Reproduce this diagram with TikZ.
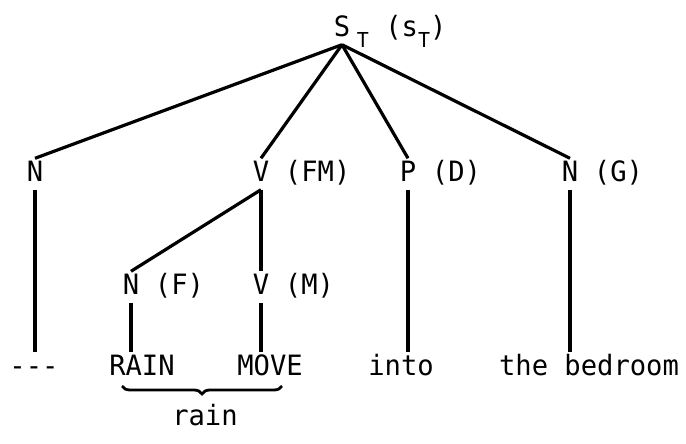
\documentclass[tikz,border=0pt]{standalone}
\usepackage{fontspec}
\setmainfont[FakeStretch=0.97]{DejaVu Sans Mono}
\usetikzlibrary{decorations.pathreplacing}
\newcommand{\subT}{\raisebox{-5.5pt}{\fontsize{10.3pt}{10.3pt}\selectfont T}}

\begin{document}
\begin{tikzpicture}[x=0.5pt, y=-0.5pt, font=\fontsize{14pt}{16pt}\selectfont,
    every node/.style={inner sep=4pt, text height=0.73em, text depth=0pt},
    rolelab/.style={inner sep=0pt},
    label distance=3.5pt,
    branch/.style={line width=1.6pt}]
  \useasboundingbox (0,0) rectangle (686,444);

  % top node
  \node[label={[rolelab, xshift=-4.5pt]right:\subT\ (s\subT)}] (root) at (342,29) {S};

  % first level
  \node (n) at (35,174) {N};
  \node[label={[rolelab]right:(FM)}] (vfm) at (261,174) {V};
  \node[label={[rolelab]right:(D)}] (pd) at (408,174) {P};
  \node[label={[rolelab]right:(G)}] (ng) at (570,174) {N};

  % second level
  \node[label={[rolelab]right:(F)}] (nf) at (131,287) {N};
  \node[label={[rolelab]right:(M)}] (vm) at (261,287) {V};

  % words
  \node (dash) at (34,368) {-{}-{}-};
  \node (rain) at (142,368) {RAIN};
  \node (move) at (270,368) {MOVE};
  \node (into) at (401,368) {into};
  \node (bedroom) at (589,368) {the bedroom};

  \foreach \c in {n,vfm,pd,ng}
    \draw[branch] (root.south) -- (\c.north);
  \draw[branch] (vfm.south) -- (nf.north);
  \draw[branch] (vfm.south) -- (vm.north);
  \foreach \c/\w in {n/dash, nf/rain, vm/move, pd/into, ng/bedroom}
    \draw[branch] (\c.south) -- (\c.south |- \w.north);

  % brace under RAIN MOVE
  \coordinate (bl) at (122,386);
  \coordinate (br) at (282,386);
  \draw[line width=1.4pt, decorate, decoration={brace, mirror, amplitude=4pt}] (bl) -- (br);
  \node (gloss) at (205,418) {rain};
\end{tikzpicture}
\end{document}
